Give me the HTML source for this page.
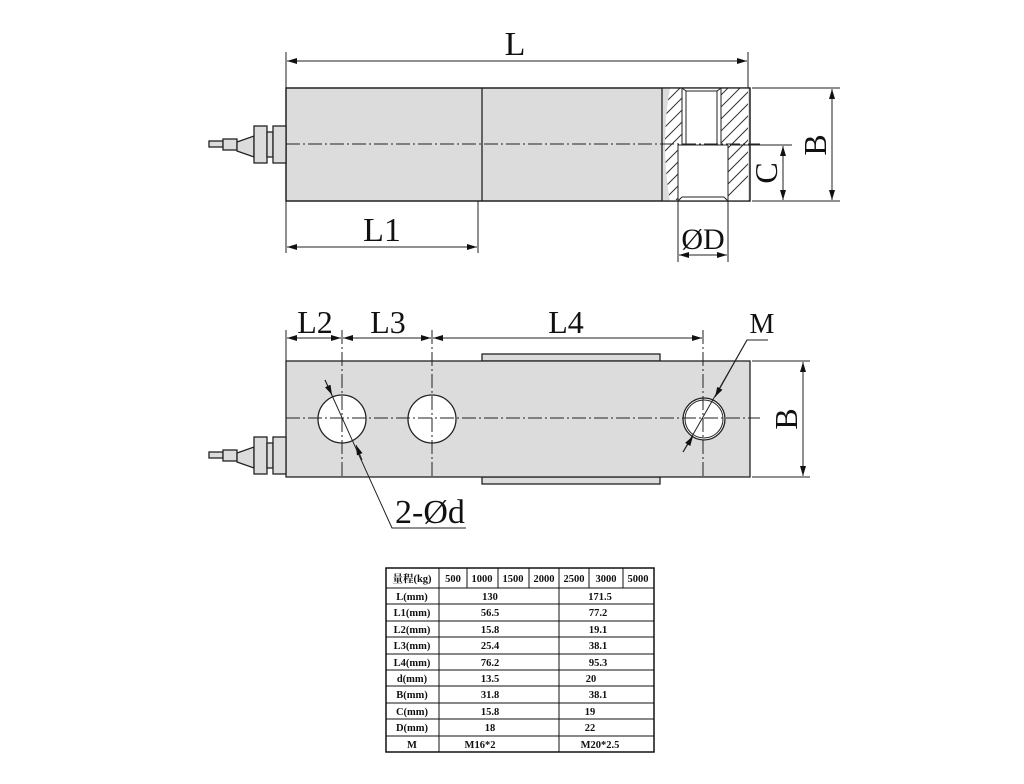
<!DOCTYPE html>
<html><head><meta charset="utf-8"><style>
html,body{margin:0;padding:0;background:#fff;}
svg{display:block;}
.t{font-family:"Liberation Serif",serif;fill:#111;}
.tb{font-family:"Liberation Serif","Noto Serif CJK SC",serif;font-weight:bold;font-size:10.5px;fill:#111;}
</style></head><body>
<svg width="1024" height="784" viewBox="0 0 1024 784" xmlns="http://www.w3.org/2000/svg">
<defs>
<marker id="a" viewBox="0 0 10 6" refX="10" refY="3" markerWidth="10" markerHeight="6" orient="auto-start-reverse" markerUnits="userSpaceOnUse"><path d="M0,0 L10,3 L0,6 z" fill="#111"/></marker>
<clipPath id="hc"><path d="M662,88 H682 V145 H678 V201 H662 Z M721,88 H748 V201 H728 V145 H721 Z"/></clipPath>
</defs>
<g stroke="#222" stroke-width="1.3" fill="none">
<!-- TOP VIEW -->
<rect x="286" y="88" width="464" height="113" fill="#dcdcdc"/>
<line x1="482" y1="88" x2="482" y2="201"/>
<rect x="662" y="88" width="86" height="113" fill="#fff" stroke="none"/>
<g clip-path="url(#hc)" stroke-width="1" stroke="#333">
<path d="M640,200 L760,80 M652,200 L772,80 M664,200 L784,80 M676,200 L796,80 M688,200 L808,80 M700,200 L820,80 M712,200 L832,80 M724,200 L844,80 M628,200 L748,80 M616,200 L736,80 M604,200 L724,80 M592,200 L712,80 M580,200 L700,80 M568,200 L688,80 M556,200 L676,80"/>
</g>
<path d="M662,88 L670,88 Q660,145 670,201 L662,201 Z" fill="#dcdcdc" stroke="none"/>
<line x1="662" y1="88" x2="662" y2="201"/>
<path d="M682,88 V145 M721,88 V145 M686,91 H717 L721,88 M686,91 L682,88 M686,91 V145 M717,91 V145" stroke-width="1"/>
<path d="M678,145 V201 M728,145 V201 M682,197 H724 M678,201 L682,197 M728,201 L724,197 M678,145 H728" stroke-width="1"/>
<rect x="286" y="88" width="464" height="113"/>
<line x1="286" y1="144" x2="760" y2="144" stroke-dasharray="14,3,2,3" stroke-width="1"/>
<g fill="#dcdcdc">
<rect x="209" y="141" width="14" height="6"/>
<rect x="223" y="139" width="14" height="11"/>
<path d="M237,142 L254,136 L254,157 L237,151 Z"/>
<rect x="254" y="126" width="13" height="37"/>
<rect x="267" y="132" width="6" height="25"/>
<rect x="273" y="126" width="13" height="37"/>
</g>
<g stroke-width="1">
<line x1="286" y1="52" x2="286" y2="88"/><line x1="748" y1="52" x2="748" y2="88"/>
<line x1="287" y1="61" x2="747" y2="61" marker-start="url(#a)" marker-end="url(#a)"/>
<line x1="286" y1="201" x2="286" y2="253"/><line x1="478" y1="201" x2="478" y2="253"/>
<line x1="287" y1="247" x2="477" y2="247" marker-start="url(#a)" marker-end="url(#a)"/>
<line x1="678" y1="201" x2="678" y2="262"/><line x1="728" y1="201" x2="728" y2="262"/>
<line x1="679" y1="255" x2="727" y2="255" marker-start="url(#a)" marker-end="url(#a)"/>
<line x1="752" y1="88" x2="840" y2="88"/><line x1="752" y1="201" x2="840" y2="201"/><line x1="730" y1="145" x2="792" y2="145"/>
<line x1="783" y1="146" x2="783" y2="200" marker-start="url(#a)" marker-end="url(#a)"/>
<line x1="832" y1="89" x2="832" y2="200" marker-start="url(#a)" marker-end="url(#a)"/>
</g>
<!-- BOTTOM VIEW -->
<rect x="482" y="354" width="178" height="7" fill="#dcdcdc"/>
<rect x="482" y="477" width="178" height="7" fill="#dcdcdc"/>
<rect x="286" y="361" width="464" height="116" fill="#dcdcdc"/>
<circle cx="342" cy="419" r="24" fill="#fff"/>
<circle cx="432" cy="419" r="24" fill="#fff"/>
<circle cx="704" cy="419" r="21" fill="#fff"/>
<circle cx="704" cy="419" r="19" stroke-width="1"/>
<g stroke-width="1" stroke-dasharray="14,3,2,3">
<line x1="286" y1="418" x2="760" y2="418"/>
<line x1="342" y1="330" x2="342" y2="477"/>
<line x1="432" y1="330" x2="432" y2="477"/>
<line x1="703" y1="330" x2="703" y2="477"/>
</g>
<g fill="#dcdcdc">
<rect x="209" y="452" width="14" height="6"/>
<rect x="223" y="450" width="14" height="11"/>
<path d="M237,453 L254,447 L254,468 L237,462 Z"/>
<rect x="254" y="437" width="13" height="37"/>
<rect x="267" y="443" width="6" height="25"/>
<rect x="273" y="437" width="13" height="37"/>
</g>
<g stroke-width="1">
<line x1="286" y1="330" x2="286" y2="361"/>
<line x1="287" y1="338" x2="341" y2="338" marker-start="url(#a)" marker-end="url(#a)"/>
<line x1="343" y1="338" x2="431" y2="338" marker-start="url(#a)" marker-end="url(#a)"/>
<line x1="433" y1="338" x2="702" y2="338" marker-start="url(#a)" marker-end="url(#a)"/>
<line x1="752" y1="361" x2="810" y2="361"/><line x1="752" y1="477" x2="810" y2="477"/>
<line x1="803" y1="362" x2="803" y2="476" marker-start="url(#a)" marker-end="url(#a)"/>
<path d="M325,380 L392,528 L466,528"/>
<line x1="325" y1="380" x2="332" y2="395" marker-end="url(#a)"/>
<line x1="362" y1="460" x2="356" y2="445" marker-end="url(#a)"/>
<path d="M768,340 L747,340 L683,452"/>
<line x1="747" y1="340" x2="715" y2="397" marker-end="url(#a)"/>
<line x1="683" y1="452" x2="693" y2="436" marker-end="url(#a)"/>
</g>
</g>
<g class="t">
<text x="515" y="55" font-size="34" text-anchor="middle">L</text>
<text x="382" y="241" font-size="34" text-anchor="middle">L1</text>
<text x="703" y="249" font-size="30" text-anchor="middle">ØD</text>
<text transform="translate(777,173) rotate(-90)" font-size="32" text-anchor="middle">C</text>
<text transform="translate(826,145) rotate(-90)" font-size="32" text-anchor="middle">B</text>
<text x="315" y="333" font-size="32" text-anchor="middle">L2</text>
<text x="388" y="333" font-size="32" text-anchor="middle">L3</text>
<text x="566" y="333" font-size="32" text-anchor="middle">L4</text>
<text x="762" y="333" font-size="28" text-anchor="middle">M</text>
<text transform="translate(797,419) rotate(-90)" font-size="32" text-anchor="middle">B</text>
<text x="430" y="523" font-size="34" text-anchor="middle">2-Ød</text>
</g>
<!-- TABLE -->
<g stroke="#111" stroke-width="1" fill="none">
<rect x="386" y="568" width="268" height="184" stroke-width="1.5"/>
<path d="M386,588H654 M386,604H654 M386,621H654 M386,637H654 M386,654H654 M386,670H654 M386,686H654 M386,703H654 M386,719H654 M386,736H654"/>
<path d="M439,568V752 M559,568V752 M467,568V588 M498,568V588 M529,568V588 M589,568V588 M623,568V588"/>
</g>
<g class="tb" text-anchor="middle">
<text x="412" y="582">量程(kg)</text>
<text x="453" y="582">500</text><text x="482" y="582">1000</text><text x="513" y="582">1500</text><text x="544" y="582">2000</text><text x="574" y="582">2500</text><text x="606" y="582">3000</text><text x="638" y="582">5000</text>
<text x="412" y="600">L(mm)</text><text x="490" y="600">130</text><text x="600" y="600">171.5</text>
<text x="412" y="616">L1(mm)</text><text x="490" y="616">56.5</text><text x="598" y="616">77.2</text>
<text x="412" y="633">L2(mm)</text><text x="490" y="633">15.8</text><text x="598" y="633">19.1</text>
<text x="412" y="649">L3(mm)</text><text x="490" y="649">25.4</text><text x="598" y="649">38.1</text>
<text x="412" y="666">L4(mm)</text><text x="490" y="666">76.2</text><text x="598" y="666">95.3</text>
<text x="412" y="682">d(mm)</text><text x="490" y="682">13.5</text><text x="591" y="682">20</text>
<text x="412" y="698">B(mm)</text><text x="490" y="698">31.8</text><text x="598" y="698">38.1</text>
<text x="412" y="715">C(mm)</text><text x="490" y="715">15.8</text><text x="590" y="715">19</text>
<text x="412" y="731">D(mm)</text><text x="490" y="731">18</text><text x="590" y="731">22</text>
<text x="412" y="748">M</text><text x="480" y="748">M16*2</text><text x="600" y="748">M20*2.5</text>
</g>
</svg>
</body></html>
